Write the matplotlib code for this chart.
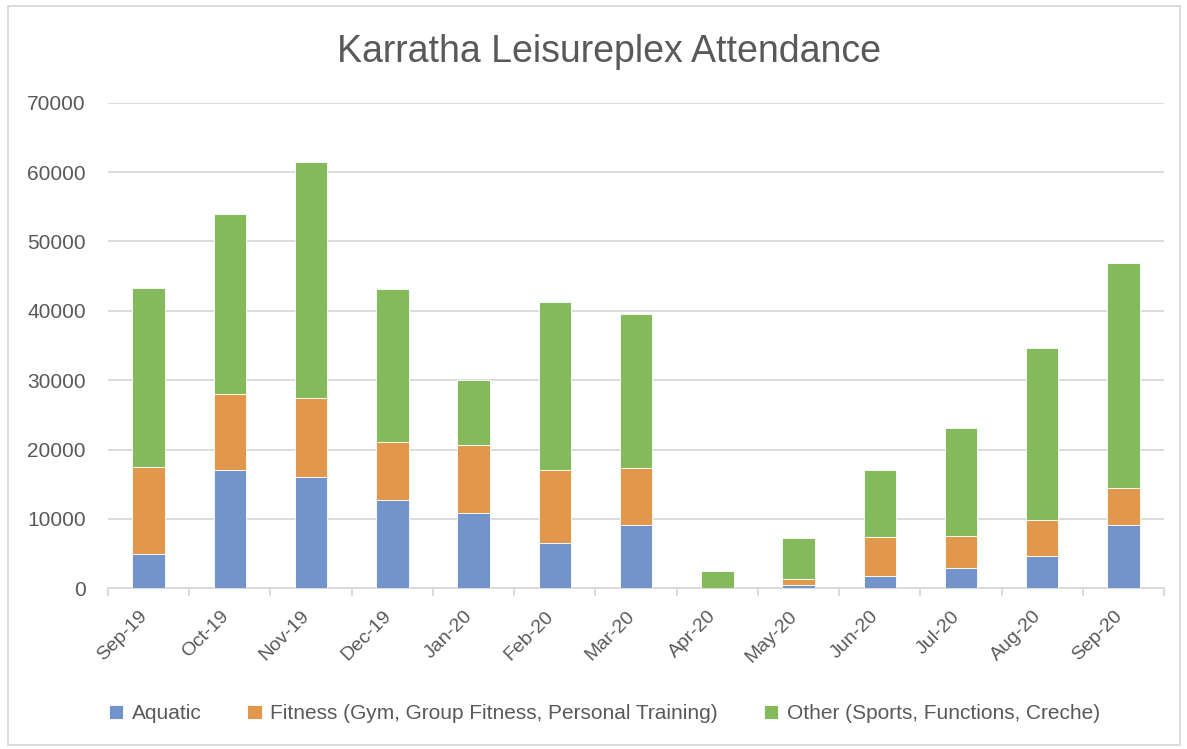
import numpy as np
from matplotlib import pyplot as plt
from matplotlib.patches import Rectangle
from matplotlib.transforms import ScaledTranslation

# Monthly attendance
months = ['Sep-19', 'Oct-19', 'Nov-19', 'Dec-19', 'Jan-20', 'Feb-20', 'Mar-20',
          'Apr-20', 'May-20', 'Jun-20', 'Jul-20', 'Aug-20', 'Sep-20']
aquatic = [4900, 17000, 16100, 12800, 10900, 6600, 9200, 0, 500, 1800, 2900, 4600, 9100]
fitness = [12600, 10950, 11300, 8300, 9700, 10400, 8200, 0, 800, 5550, 4700, 5200, 5300]
other = [25800, 25950, 34100, 22100, 9500, 24250, 22100, 2450, 5950, 9700, 15500, 24900, 32500]

labels = ['Aquatic', 'Fitness (Gym, Group Fitness, Personal Training)',
          'Other (Sports, Functions, Creche)']
colors = ['#7294CB', '#E1974C', '#84BA5B']

plt.rcParams['font.family'] = ['Liberation Sans', 'DejaVu Sans']
text_col = '#595959'
grid_col = '#D9D9D9'

fig = plt.figure(figsize=(11.87, 7.49), dpi=100)
ax = fig.add_axes([0.091, 0.2145, 0.8897, 0.6484])

x = np.arange(len(months))
aq = np.array(aquatic)
fi = np.array(fitness)
ot = np.array(other)
w = 0.4
ax.bar(x, aq, w, color=colors[0], edgecolor='white', linewidth=0.6, label=labels[0], zorder=3)
ax.bar(x, fi, w, bottom=aq, color=colors[1], edgecolor='white', linewidth=0.6, label=labels[1], zorder=3)
ax.bar(x, ot, w, bottom=aq + fi, color=colors[2], edgecolor='white', linewidth=0.6, label=labels[2], zorder=3)

ax.set_xlim(-0.5, len(months) - 0.5)
ax.set_ylim(0, 70000)
ax.set_yticks(np.arange(0, 70001, 10000))
ax.yaxis.grid(True, color=grid_col, linewidth=1.3, zorder=0)
ax.set_axisbelow(True)

ax.set_xticks(x)
ax.set_xticklabels(months, rotation=45, ha='right', rotation_mode='anchor')
ax.set_xticks(np.arange(-0.5, len(months)), minor=True)
ax.tick_params(axis='x', which='major', length=0, pad=14, labelsize=14, labelcolor=text_col)
ax.tick_params(axis='x', which='minor', length=6, width=1.3, color=grid_col)
ax.tick_params(axis='y', length=0, pad=16, labelsize=15, labelcolor=text_col)
# nudge rotated labels left so their ends sit under the bar centres
shift = ScaledTranslation(-0.10, 0.0, fig.dpi_scale_trans)
for lab in ax.get_xticklabels():
    lab.set_transform(lab.get_transform() + shift)

for s in ['top', 'right', 'left']:
    ax.spines[s].set_visible(False)
ax.spines['bottom'].set_color(grid_col)
ax.spines['bottom'].set_linewidth(1.3)

fig.text(0.513, 0.931, 'Karratha Leisureplex Attendance', ha='center', va='center',
         fontsize=27, color=text_col)

leg = fig.legend(loc='center', bbox_to_anchor=(0.509, 0.047), ncol=3, frameon=False,
                 fontsize=15, handlelength=0.7, handleheight=0.7, handletextpad=0.4,
                 columnspacing=2.2)
for t in leg.get_texts():
    t.set_color(text_col)

# light chart border
fig.patches.append(Rectangle((8 / 1187, 4 / 749), 1172 / 1187, 739 / 749, transform=fig.transFigure,
                             fill=False, edgecolor=grid_col, linewidth=1.3))

plt.savefig('out.png', dpi=100)
